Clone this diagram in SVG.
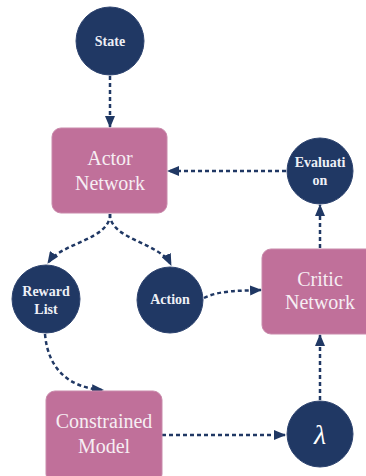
<svg xmlns="http://www.w3.org/2000/svg" width="366" height="476" viewBox="0 0 366 476">
<style>
.c{fill:#203864;stroke:#2e4470;stroke-width:1}
.r{fill:#c0709a;stroke:#c98aab;stroke-width:1}
.t{font-family:'Liberation Serif','DejaVu Serif',serif;fill:#ffffff;text-anchor:middle}
.s{font-size:14px;font-weight:bold;fill:#eef0f6}
.b{font-size:20px;fill:#f6eef3}
.e{fill:none;stroke:#203864;stroke-width:2.5;stroke-dasharray:4 3}
</style>
<defs>
<marker id="ah" markerUnits="userSpaceOnUse" markerWidth="12" markerHeight="10" refX="11" refY="5" orient="auto">
<path d="M0,0 L12,5 L0,10 Z" fill="#203864"/>
</marker>
</defs>
<rect width="366" height="476" fill="#ffffff"/>
<g id="edges">
<path class="e" d="M110,76 L110,127" marker-end="url(#ah)"/>
<path class="e" d="M286,171 L168,171" marker-end="url(#ah)"/>
<path class="e" d="M110,214 C110,240 62,242 48,263" marker-end="url(#ah)"/>
<path class="e" d="M110,214 C110,240 160,242 171,265" marker-end="url(#ah)"/>
<path class="e" d="M204,298 C220,290 240,291 261,290" marker-end="url(#ah)"/>
<path class="e" d="M45,334 C48,370 70,388 103,390" marker-end="url(#ah)"/>
<path class="e" d="M162,435 L285,435" marker-end="url(#ah)"/>
<path class="e" d="M320,400 L320,335" marker-end="url(#ah)"/>
<path class="e" d="M320,248 L320,205" marker-end="url(#ah)"/>
</g>
<g id="state">
<circle class="c" cx="110" cy="41" r="34"/>
<text class="t s" x="110" y="46">State</text>
</g>
<g id="actor">
<rect class="r" x="52" y="128" width="115" height="85" rx="9"/>
<text class="t b" x="110" y="165">Actor</text>
<text class="t b" x="110" y="190">Network</text>
</g>
<g id="evaluation">
<circle class="c" cx="320" cy="171" r="33"/>
<text class="t s" x="320" y="167">Evaluati</text>
<text class="t s" x="320" y="185">on</text>
</g>
<g id="reward">
<circle class="c" cx="46" cy="299" r="34"/>
<text class="t s" x="46" y="296">Reward</text>
<text class="t s" x="46" y="314">List</text>
</g>
<g id="action">
<circle class="c" cx="170" cy="300" r="33"/>
<text class="t s" x="170" y="304">Action</text>
</g>
<g id="critic">
<rect class="r" x="262" y="249" width="120" height="85" rx="9"/>
<text class="t b" x="320" y="286">Critic</text>
<text class="t b" x="320" y="309">Network</text>
</g>
<g id="constrained">
<rect class="r" x="46" y="391" width="116" height="92" rx="9"/>
<text class="t b" x="104" y="428">Constrained</text>
<text class="t b" x="104" y="453">Model</text>
</g>
<g id="lambda">
<circle class="c" cx="320" cy="434" r="33"/>
<text class="t" x="320" y="444" font-size="28" font-style="italic">λ</text>
</g>
</svg>
